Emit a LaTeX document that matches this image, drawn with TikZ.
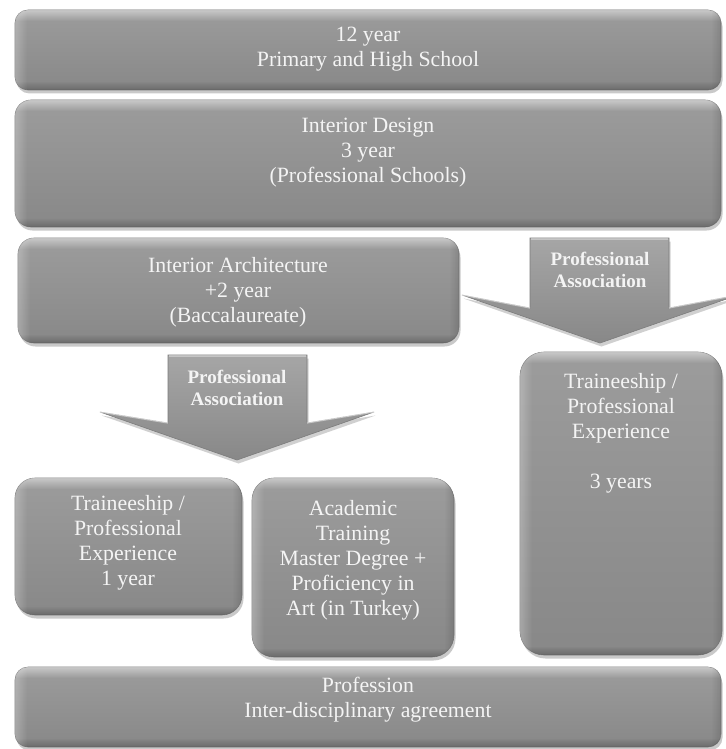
\documentclass[tikz,border=0pt]{standalone}
\usepackage{fontspec}
\setmainfont{Liberation Serif}
\usetikzlibrary{shadows,fadings}
\definecolor{boxtop}{HTML}{9C9C9C}
\definecolor{boxbot}{HTML}{888888}
\definecolor{boxline}{HTML}{7C7C7C}
\definecolor{txt}{HTML}{F4F4F4}
\tikzset{
  gbox/.style={draw=boxline, line width=0.6pt, top color=boxtop, bottom color=boxbot,
    inner sep=0pt, outer sep=0pt,
    drop shadow={shadow xshift=1.5pt, shadow yshift=-3.5pt, opacity=0.35, fill=black!60}},
  garrow/.style={draw=boxline, line width=0.6pt, top color=boxtop!90!white, bottom color=boxbot,
    drop shadow={shadow xshift=1.5pt, shadow yshift=-3.5pt, opacity=0.3, fill=black!60}},
  lbl/.style={text=txt, inner sep=0pt, font=\fontsize{21.8}{25}\selectfont, anchor=base},
  blbl/.style={text=txt, inner sep=0pt, font=\bfseries\fontsize{19}{22}\selectfont, anchor=base},
}
\newcommand\boxbevel[2]{%
  \begin{scope}
    \clip[rounded corners=#2] (#1.south west) rectangle (#1.north east);
    \fill[white, opacity=.45, path fading=south] (#1.north west) rectangle ([yshift=-11pt]#1.north east);
    \fill[black, opacity=.22, path fading=north] ([yshift=9pt]#1.south west) rectangle (#1.south east);
    \fill[white, opacity=.25, path fading=east] (#1.north west) rectangle ([xshift=12pt]#1.south west);
    \fill[black, opacity=.12, path fading=west] ([xshift=-10pt]#1.north east) rectangle (#1.south east);
  \end{scope}}
\begin{document}
\begin{tikzpicture}[x=1pt,y=-1pt]
\useasboundingbox (0,0) rectangle (725,749);
\fill[white] (0,0) rectangle (725,749);

% boxes
\node[gbox, rounded corners=13pt, minimum width=706pt, minimum height=80pt] (b1) at (368,50) {};
\boxbevel{b1}{13pt}
\node[gbox, rounded corners=16pt, minimum width=706pt, minimum height=127pt] (b2) at (368,163.5) {};
\boxbevel{b2}{16pt}
\node[gbox, rounded corners=16pt, minimum width=441pt, minimum height=105pt] (b3) at (238.5,290.5) {};
\boxbevel{b3}{16pt}
\node[gbox, rounded corners=20pt, minimum width=227pt, minimum height=137pt] (b4) at (128.5,546.5) {};
\boxbevel{b4}{20pt}
\node[gbox, rounded corners=22pt, minimum width=202pt, minimum height=179pt] (b5) at (353,567.5) {};
\boxbevel{b5}{22pt}
\node[gbox, rounded corners=24pt, minimum width=202pt, minimum height=303pt] (b6) at (621,503.5) {};
\boxbevel{b6}{24pt}
\node[gbox, rounded corners=13pt, minimum width=706pt, minimum height=80pt] (b7) at (368,707) {};
\boxbevel{b7}{13pt}

% arrows
\path[garrow] (530,238) -- (669,238) -- (669,308) -- (738,295) -- (600,343) -- (462,295) -- (530,308) -- cycle;
\draw[white, opacity=.55, line width=1.2pt] (462,295) -- (530,308) (669,308) -- (738,295) (531,239) -- (668,239);
\path[garrow] (168,355) -- (307,355) -- (307,423) -- (374,412) -- (237,460) -- (100,412) -- (168,423) -- cycle;
\draw[white, opacity=.55, line width=1.2pt] (100,412) -- (168,423) (307,423) -- (374,412) (169,356) -- (306,356);

% texts
\node[lbl] (t1) at (368,42) {\begin{tabular}[t]{@{}c@{}}12 year\\Primary and High School\end{tabular}};
\node[lbl] (t2) at (368,132) {\begin{tabular}[t]{@{}c@{}}Interior Design\\3 year\\(Professional Schools)\end{tabular}};
\node[lbl] (t3) at (238,272) {\begin{tabular}[t]{@{}c@{}}Interior Architecture\\+2 year\\(Baccalaureate)\end{tabular}};
\node[blbl] (a1) at (600,265) {\begin{tabular}[t]{@{}c@{}}Professional\\Association\end{tabular}};
\node[blbl] (a2) at (237,383) {\begin{tabular}[t]{@{}c@{}}Professional\\Association\end{tabular}};
\node[lbl] (t4) at (128,510) {\begin{tabular}[t]{@{}c@{}}Traineeship /\\Professional\\Experience\\1 year\end{tabular}};
\node[lbl] (t5) at (353,515) {\begin{tabular}[t]{@{}c@{}}Academic\\Training\\Master Degree +\\Proficiency in\\Art (in Turkey)\end{tabular}};
\node[lbl] (t6) at (621,388) {\begin{tabular}[t]{@{}c@{}}Traineeship /\\Professional\\Experience\\ \\3 years\end{tabular}};
\node[lbl] (t7) at (368,692) {\begin{tabular}[t]{@{}c@{}}Profession\\Inter-disciplinary agreement\end{tabular}};
\end{tikzpicture}
\end{document}
